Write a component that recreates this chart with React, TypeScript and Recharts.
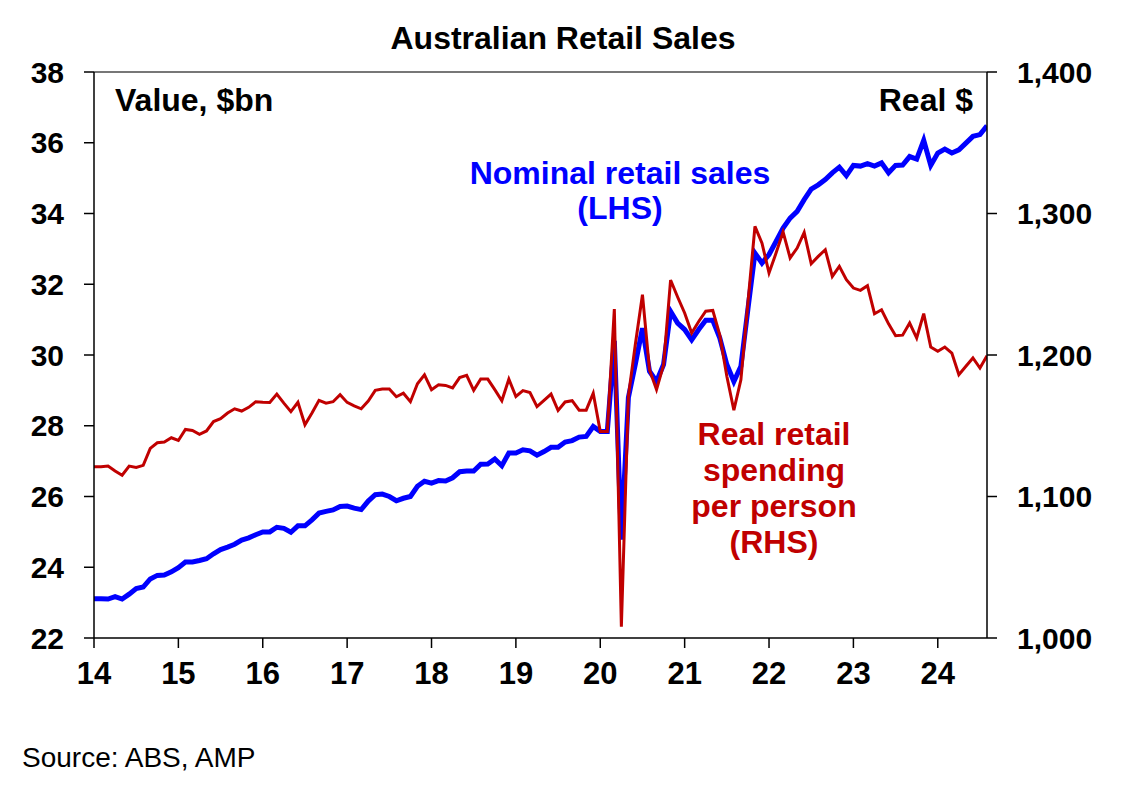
import React from 'react';
import { LineChart, Line, XAxis, YAxis, ReferenceLine } from 'recharts';

// monthly, Jan 2014 .. Aug 2024
const startYear = 2014;

// Nominal retail sales, $bn (LHS)
const nominal = [
  23.11, 23.11, 23.10, 23.17, 23.10, 23.24, 23.40, 23.44, 23.67, 23.77, 23.78, 23.87,
  23.99, 24.15, 24.15, 24.19, 24.24, 24.38, 24.50, 24.57, 24.65, 24.77, 24.83, 24.92,
  25.00, 25.00, 25.13, 25.10, 24.99, 25.17, 25.17, 25.34, 25.53, 25.58, 25.62, 25.72,
  25.73, 25.67, 25.63, 25.87, 26.05, 26.07, 26.00, 25.88, 25.95, 26.00, 26.29, 26.43,
  26.38, 26.45, 26.44, 26.53, 26.70, 26.72, 26.72, 26.91, 26.92, 27.06, 26.87, 27.23,
  27.23, 27.32, 27.29, 27.17, 27.27, 27.39, 27.39, 27.54, 27.58, 27.68, 27.70, 27.98,
  27.84, 27.84, 30.40, 24.78, 28.80, 29.75, 30.76, 29.54, 29.25, 29.73, 31.23, 30.90,
  30.72, 30.43, 30.72, 30.98, 30.98, 30.48, 29.73, 29.25, 29.68, 31.30, 32.88, 32.60,
  32.84, 33.21, 33.59, 33.87, 34.06, 34.39, 34.69, 34.81, 34.96, 35.15, 35.31, 35.07,
  35.36, 35.34, 35.41, 35.34, 35.43, 35.15, 35.36, 35.37, 35.61, 35.54, 36.07, 35.36,
  35.71, 35.82, 35.71, 35.80, 35.99, 36.18, 36.23, 36.48,
];

// Real retail spending per person, $ (RHS)
const realPerPerson = [
  1121, 1121, 1121.5, 1118, 1115, 1121.5, 1120.5, 1122, 1134, 1138, 1138.5, 1141.5,
  1139.6, 1147.4, 1146.7, 1144, 1146.3, 1153, 1155, 1159, 1162, 1160.4, 1163, 1167,
  1166.6, 1166.4, 1172.4, 1166, 1160, 1166.6, 1150.7, 1159, 1168, 1166, 1167, 1172,
  1166.5, 1164, 1162, 1167.5, 1175, 1176, 1176, 1170.5, 1173, 1167, 1179.7, 1186,
  1175.5, 1179, 1178.5, 1176.7, 1184, 1185.6, 1175, 1183, 1183, 1175.5, 1167.7, 1183,
  1170.7, 1174.8, 1173.4, 1163.5, 1168, 1172.4, 1160.8, 1166.8, 1167.7, 1161, 1161, 1173,
  1146, 1146, 1232.5, 1008, 1171, 1208, 1242.6, 1189.6, 1175.5, 1193, 1253, 1241,
  1229.7, 1215.5, 1223.7, 1231, 1231.5, 1214, 1185, 1161, 1182.5, 1237, 1290.9, 1279,
  1258, 1272, 1287, 1268.6, 1275.6, 1286.6, 1264.5, 1269.7, 1274.4, 1255.5, 1262.6, 1253.2,
  1247.3, 1245.7, 1249, 1229.2, 1232, 1222, 1213.6, 1214, 1222.6, 1212, 1229.2, 1205.6,
  1202.6, 1205.6, 1201.4, 1186, 1192, 1197.9, 1190.8, 1199.5,
];

const xTicks = [2014, 2015, 2016, 2017, 2018, 2019, 2020, 2021, 2022, 2023, 2024];
const leftTicks = [22, 24, 26, 28, 30, 32, 34, 36, 38];
const rightTicks = [1000, 1100, 1200, 1300, 1400];

const data = nominal.map((v, i) => ({
  t: startYear + i / 12,
  nominal: v,
  real: realPerPerson[i],
}));

const FONT = '"Liberation Sans", Arial, sans-serif';
const RED = '#C00000';
const BLUE = '#0000FF';

export default function App() {
  const tickStyle = { fill: '#000', fontSize: 30, fontWeight: 700, fontFamily: FONT };

  return (
    <div style={{ position: 'absolute', left: 0, top: 0, width: 1129, height: 785, background: '#fff' }}>
      <LineChart
        width={1129}
        height={785}
        data={data}
        margin={{ top: 72, right: 0, bottom: 87, left: 0 }}
      >
        <XAxis
          dataKey="t"
          type="number"
          domain={[2014, 2024 + 7 / 12]}
          ticks={xTicks}
          tickFormatter={(v) => String(v - 2000)}
          tick={{ ...tickStyle, fontSize: 31 }}
          tickSize={10}
          tickMargin={14}
          height={60}
          stroke="#000"
          strokeWidth={1.5}
          allowDataOverflow
        />
        <YAxis
          yAxisId="left"
          domain={[22, 38]}
          ticks={leftTicks}
          tick={tickStyle}
          tickSize={10}
          tickMargin={20}
          width={94}
          stroke="#000"
          strokeWidth={1.5}
          interval={0}
        />
        <YAxis
          yAxisId="right"
          orientation="right"
          domain={[1000, 1400]}
          ticks={rightTicks}
          tickFormatter={(v) => v.toLocaleString('en-US')}
          tick={tickStyle}
          tickSize={10}
          tickMargin={20}
          width={142}
          stroke="#000"
          strokeWidth={1.5}
          interval={0}
        />
        <ReferenceLine yAxisId="left" y={38} stroke="#777" strokeWidth={2} />
        <Line
          yAxisId="left"
          type="linear"
          dataKey="nominal"
          stroke={BLUE}
          strokeWidth={5}
          dot={false}
          isAnimationActive={false}
        />
        <Line
          yAxisId="right"
          type="linear"
          dataKey="real"
          stroke={RED}
          strokeWidth={3}
          dot={false}
          isAnimationActive={false}
        />
      </LineChart>

      <svg
        width={1129}
        height={785}
        style={{ position: 'absolute', left: 0, top: 0, pointerEvents: 'none' }}
        fontFamily={FONT}
      >
        <text x={563} y={49} textAnchor="middle" fontSize={32} fontWeight={700} fill="#000">
          Australian Retail Sales
        </text>
        <text x={115} y={111} fontSize={32} fontWeight={700} fill="#000">
          Value, $bn
        </text>
        <text x={973} y={111} textAnchor="end" fontSize={32} fontWeight={700} fill="#000">
          Real $
        </text>
        <text x={620} y={184} textAnchor="middle" fontSize={32} fontWeight={700} fill={BLUE}>
          Nominal retail sales
        </text>
        <text x={620} y={219} textAnchor="middle" fontSize={32} fontWeight={700} fill={BLUE}>
          (LHS)
        </text>
        <text x={774} y={445} textAnchor="middle" fontSize={32} fontWeight={700} fill={RED}>
          Real retail
        </text>
        <text x={774} y={481} textAnchor="middle" fontSize={32} fontWeight={700} fill={RED}>
          spending
        </text>
        <text x={774} y={517} textAnchor="middle" fontSize={32} fontWeight={700} fill={RED}>
          per person
        </text>
        <text x={774} y={553} textAnchor="middle" fontSize={32} fontWeight={700} fill={RED}>
          (RHS)
        </text>
        <text x={22} y={767} fontSize={28} fill="#000">
          Source: ABS, AMP
        </text>
      </svg>
    </div>
  );
}
